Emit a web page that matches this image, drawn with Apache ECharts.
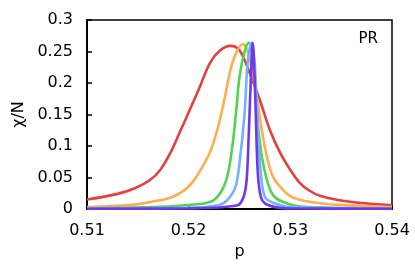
<!DOCTYPE html>
<html><head><meta charset="utf-8">
<script src="https://cdn.jsdelivr.net/npm/echarts@6/dist/echarts.min.js"></script>
<style>html,body{margin:0;padding:0;background:#fff}#c{width:415px;height:268px}</style>
</head><body><div id="c"></div>
<script>
var xTicks = [0.51, 0.52, 0.53, 0.54];
var yTicks = [0, 0.05, 0.1, 0.15, 0.2, 0.25, 0.3];
var seriesNames = ['red', 'orange', 'green', 'blue', 'purple'];
var redData = [[0.51,0.015],[0.513,0.024],[0.5147,0.033],[0.5162,0.046],[0.5172,0.062],[0.5182,0.089],[0.5191,0.121],[0.5201,0.157],[0.5211,0.194],[0.5221,0.232],[0.5231,0.252],[0.5241,0.259],[0.525,0.252],[0.526,0.216],[0.527,0.173],[0.528,0.125],[0.529,0.089],[0.53,0.062],[0.5309,0.042],[0.5319,0.029],[0.5329,0.021],[0.5348,0.014],[0.5367,0.01],[0.54,0.006]];
var orangeData = [[0.51,0.003],[0.5147,0.007],[0.5162,0.011],[0.5182,0.018],[0.5196,0.03],[0.5205,0.045],[0.5211,0.06],[0.5221,0.09],[0.5228,0.125],[0.5234,0.165],[0.5239,0.205],[0.5243,0.232],[0.5248,0.252],[0.5253,0.262],[0.5259,0.245],[0.5267,0.178],[0.5272,0.125],[0.5277,0.083],[0.5283,0.051],[0.5293,0.03],[0.5303,0.018],[0.5329,0.009],[0.5367,0.005],[0.54,0.003]];
var greenData = [[0.51,0.001],[0.5164,0.003],[0.5196,0.006],[0.5221,0.011],[0.5231,0.025],[0.5238,0.052],[0.5243,0.1],[0.5247,0.16],[0.525,0.21],[0.5255,0.25],[0.5259,0.264],[0.5262,0.25],[0.5265,0.205],[0.5268,0.136],[0.5272,0.083],[0.5277,0.046],[0.5283,0.022],[0.5293,0.011],[0.531,0.004],[0.54,0.001]];
var blueData = [[0.51,0.001],[0.5196,0.002],[0.5229,0.006],[0.5238,0.014],[0.5246,0.035],[0.525,0.073],[0.5255,0.152],[0.5258,0.232],[0.5262,0.264],[0.5265,0.23],[0.5268,0.125],[0.5271,0.057],[0.5275,0.019],[0.5283,0.01],[0.53,0.003],[0.54,0.001]];
var purpleData = [[0.51,0.0005],[0.52,0.001],[0.5248,0.006],[0.5254,0.019],[0.5257,0.046],[0.5259,0.114],[0.5261,0.2],[0.5263,0.264],[0.5265,0.2],[0.5266,0.152],[0.5268,0.057],[0.5271,0.019],[0.5275,0.009],[0.5285,0.003],[0.53,0.001],[0.54,0.0005]];
var colors = ['#e2413f', '#ffad4f', '#4fd44f', '#6fb2ff', '#7136ef'];
var datas = [redData, orangeData, greenData, blueData, purpleData];

var chart = echarts.init(document.getElementById('c'));
var font = 'DejaVu Sans';
chart.setOption({
  animation: false,
  grid: {left: 87, right: 23, top: 20, bottom: 59, show: true, borderColor: '#000', borderWidth: 1.5, backgroundColor: 'transparent'},
  xAxis: {
    type: 'value', min: xTicks[0], max: xTicks[xTicks.length-1], interval: 0.01,
    name: 'p', nameLocation: 'middle', nameGap: 28,
    nameTextStyle: {fontFamily: font, fontSize: 16, color: '#000'},
    axisLine: {show: true, lineStyle: {color: '#000', width: 2}},
    axisTick: {show: true, inside: true, length: 4, lineStyle: {color: '#000', width: 1.5}},
    axisLabel: {fontFamily: font, fontSize: 16, color: '#000', margin: 14, formatter: function(v){return v.toFixed(2);}},
    splitLine: {show: false}
  },
  yAxis: {
    type: 'value', min: 0, max: 0.3, interval: 0.05,
    name: 'χ/N', nameLocation: 'middle', nameGap: 49, nameRotate: 90,
    nameTextStyle: {fontFamily: font, fontSize: 16, color: '#000'},
    axisLine: {show: true, lineStyle: {color: '#000', width: 2}},
    axisTick: {show: true, inside: true, length: 5, lineStyle: {color: '#000', width: 1.5}},
    axisLabel: {fontFamily: font, fontSize: 16, color: '#000', margin: 14, formatter: function(v){return String(+v.toFixed(2));}},
    splitLine: {show: false}
  },
  graphic: [{type: 'text', right: 37, top: 32, style: {text: 'PR', fontFamily: font, fontSize: 15, fill: '#000'}}],
  series: datas.map(function(d, i){
    return {name: seriesNames[i], type: 'line', data: d, smooth: 0.35, showSymbol: false, clip: true,
      lineStyle: {color: colors[i], width: 2.6}};
  })
});
</script></body></html>
